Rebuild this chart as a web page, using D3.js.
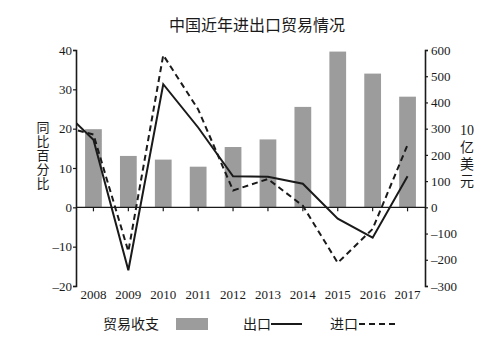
<!DOCTYPE html>
<html>
<head>
<meta charset="utf-8">
<script src="https://cdn.jsdelivr.net/npm/d3@7"></script>
<style>
  body { margin: 0; background: #fff; }
  svg { display: block; }
</style>
</head>
<body>
<svg id="chart" width="490" height="352"></svg>
<script>
// years shown on the axis; 2007 only feeds the line start clipped at the left axis
var years = ["2008", "2009", "2010", "2011", "2012", "2013", "2014", "2015", "2016", "2017"];
var lineYears = ["2007"].concat(years);
var balance = [298, 196, 182, 155, 230, 259, 383, 594, 510, 422];          // 10亿美元
var exportGrowth = [25.7, 17.2, -16.0, 31.3, 20.3, 7.9, 7.8, 6.0, -2.9, -7.7, 7.9]; // %
var importGrowth = [20.8, 18.5, -11.2, 38.7, 24.9, 4.3, 7.2, 0.4, -14.1, -5.5, 15.9]; // %
var leftTicks = [-20, -10, 0, 10, 20, 30, 40];
var rightTicks = [-300, -200, -100, 0, 100, 200, 300, 400, 500, 600];

(function() {

    var svg = d3.select("#chart"),
        pLeft = 76, pRight = 425, pTop = 50, pBottom = 286,
        serif = "'Liberation Serif', 'DejaVu Serif', serif",
        cjk = "'Noto Sans CJK SC', sans-serif",
        ink = "#1a1a1a";

    var x = d3.scaleBand().domain(years).range([pLeft, pRight]).paddingInner(0.52).paddingOuter(0.26);
    var step = x.step();
    var cx = function(yr) { return x(years[0]) + x.bandwidth() / 2 + (lineYears.indexOf(yr) - 1) * step; };
    var yL = d3.scaleLinear().domain([-20, 40]).range([pBottom, pTop]);
    var yR = d3.scaleLinear().domain([-300, 600]).range([pBottom, pTop]);

    // title
    svg.append("text")
        .attr("x", 257).attr("y", 31)
        .attr("text-anchor", "middle")
        .style("font-family", cjk).style("font-size", "16px").attr("fill", ink)
        .text("中国近年进出口贸易情况");

    // bars
    svg.append("g").selectAll("rect")
        .data(years)
        .join("rect")
        .attr("x", function(d) { return x(d); })
        .attr("width", x.bandwidth())
        .attr("y", function(d, i) { return yR(balance[i]); })
        .attr("height", function(d, i) { return yR(0) - yR(balance[i]); })
        .attr("fill", "#9c9c9c");

    // zero line with ticks
    var xAxis = svg.append("g")
        .attr("transform", "translate(0," + yL(0) + ")")
        .call(d3.axisBottom(x).tickSize(4).tickFormat(""));
    xAxis.select(".domain").attr("d", "M" + pLeft + ",0H" + pRight).attr("stroke", ink).attr("stroke-width", 1.4);
    xAxis.selectAll(".tick line").attr("stroke", ink).attr("stroke-width", 1.2);

    // year labels below the plot
    svg.append("g").selectAll("text")
        .data(years)
        .join("text")
        .attr("x", function(d) { return x(d) + x.bandwidth() / 2; })
        .attr("y", 299)
        .attr("text-anchor", "middle")
        .style("font-family", serif).style("font-size", "13px").attr("fill", ink)
        .text(function(d) { return d; });

    // left and right axes
    var fmt = function(d) { return d < 0 ? "\u2013" + Math.abs(d) : d; };
    var gL = svg.append("g")
        .attr("transform", "translate(" + pLeft + ",0)")
        .call(d3.axisLeft(yL).tickValues(leftTicks).tickSize(3).tickSizeOuter(3).tickFormat(fmt));
    var gR = svg.append("g")
        .attr("transform", "translate(" + pRight + ",0)")
        .call(d3.axisRight(yR).tickValues(rightTicks).tickSize(3).tickSizeOuter(3).tickFormat(fmt));
    [gL, gR].forEach(function(g) {
        g.select(".domain").attr("stroke", ink).attr("stroke-width", 1.6);
        g.selectAll(".tick line").attr("stroke", ink).attr("stroke-width", 1.2);
        g.selectAll(".tick text").style("font-family", serif).style("font-size", "13px").attr("fill", ink);
    });
    gL.selectAll(".tick text").attr("x", -4);
    gR.selectAll(".tick text").attr("x", 6);

    // lines, clipped to the plot
    svg.append("clipPath").attr("id", "plotclip")
        .append("rect").attr("x", pLeft).attr("y", 0).attr("width", pRight - pLeft + 2).attr("height", 352);

    var line = d3.line()
        .x(function(d) { return cx(d.year); })
        .y(function(d) { return yL(d.v); });

    var lines = svg.append("g").attr("clip-path", "url(#plotclip)");
    lines.append("path")
        .datum(lineYears.map(function(yr, i) { return { year: yr, v: importGrowth[i] }; }))
        .attr("d", line)
        .attr("fill", "none").attr("stroke", ink).attr("stroke-width", 2)
        .attr("stroke-dasharray", "6,4");
    lines.append("path")
        .datum(lineYears.map(function(yr, i) { return { year: yr, v: exportGrowth[i] }; }))
        .attr("d", line)
        .attr("fill", "none").attr("stroke", ink).attr("stroke-width", 2);

    // axis titles, written top to bottom
    svg.append("text")
        .attr("x", 43).attr("y", 121)
        .style("writing-mode", "vertical-rl").style("letter-spacing", "1px")
        .style("font-family", cjk).style("font-size", "13px").attr("fill", ink)
        .text("同比百分比");
    svg.append("text")
        .attr("x", 467).attr("y", 135)
        .attr("text-anchor", "middle")
        .style("font-family", serif).style("font-size", "14px").attr("fill", ink)
        .text("10");
    svg.append("text")
        .attr("x", 467).attr("y", 140)
        .style("writing-mode", "vertical-rl").style("letter-spacing", "3px")
        .style("font-family", cjk).style("font-size", "14px").attr("fill", ink)
        .text("亿美元");

    // legend
    var legend = svg.append("g").style("font-family", cjk).style("font-size", "14px").attr("fill", ink);
    legend.append("text").attr("x", 103).attr("y", 329).text("贸易收支");
    legend.append("rect").attr("x", 176).attr("y", 318).attr("width", 32).attr("height", 12).attr("fill", "#9c9c9c");
    legend.append("text").attr("x", 243).attr("y", 329).text("出口");
    legend.append("line").attr("x1", 271).attr("x2", 302).attr("y1", 324).attr("y2", 324)
        .attr("stroke", ink).attr("stroke-width", 2);
    legend.append("text").attr("x", 330).attr("y", 329).text("进口");
    legend.append("line").attr("x1", 359).attr("x2", 396).attr("y1", 324).attr("y2", 324)
        .attr("stroke", ink).attr("stroke-width", 2).attr("stroke-dasharray", "6,4");
})();
</script>
</body>
</html>
